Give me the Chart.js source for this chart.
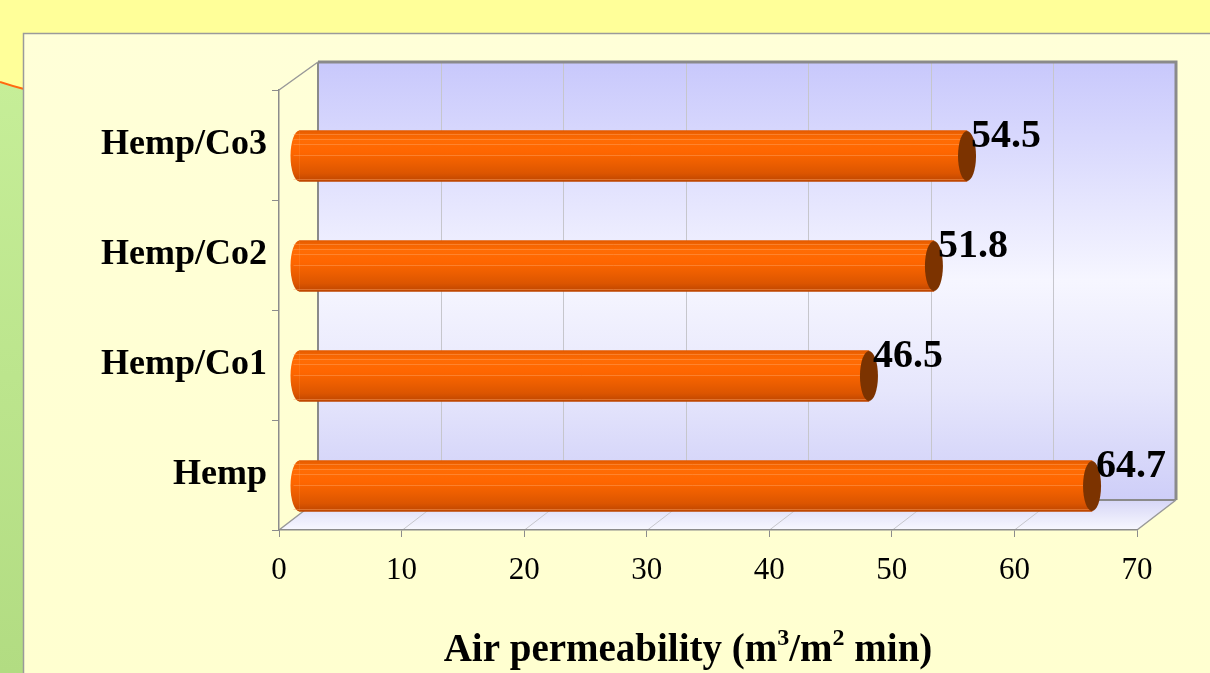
<!DOCTYPE html>
<html><head><meta charset="utf-8">
<script src="https://cdn.jsdelivr.net/npm/chart.js@4.4.1/dist/chart.umd.min.js"></script>
<style>
html,body{margin:0;padding:0;width:1210px;height:673px;overflow:hidden;background:#ffff99;}
#wrap{position:relative;width:1210px;height:673px;}
canvas{position:absolute;left:0;top:0;}
</style></head><body>
<div id="wrap"><canvas id="c" width="1210" height="673"></canvas></div>
<script>
// ---- data ----
const categories = ['Hemp/Co3', 'Hemp/Co2', 'Hemp/Co1', 'Hemp'];
const airPermeability = [54.5, 51.8, 46.5, 64.7];
const xTicks = [0, 10, 20, 30, 40, 50, 60, 70];
const titleMain = 'Air permeability (m';
const titleSup1 = '3';
const titleMid = '/m';
const titleSup2 = '2';
const titleEnd = ' min)';

const SERIF = '"Liberation Serif","Times New Roman",serif';
// 3D geometry (depth offsets of the back wall, offset of bars inside the box)
const DX = 39, DYT = -28, DYB = -30;
const BAR_DX = 20, BAR_DY = 11;
const BAR_T = 51;

const pageBg = {
  id: 'pageBg',
  beforeDraw(chart) {
    const ctx = chart.ctx;
    const W = chart.width, H = chart.height;
    ctx.save();
    ctx.fillStyle = '#ffff99';
    ctx.fillRect(0, 0, W, H);
    // green strip below orange arc
    ctx.beginPath();
    ctx.moveTo(0, 82);
    ctx.quadraticCurveTo(12, 86, 24, 89);
    ctx.lineTo(24, H); ctx.lineTo(0, H); ctx.closePath();
    const gg = ctx.createLinearGradient(0, 80, 0, H);
    gg.addColorStop(0, '#c6ee98'); gg.addColorStop(1, '#b2dc82');
    ctx.fillStyle = gg; ctx.fill();
    ctx.beginPath();
    ctx.moveTo(0, 82);
    ctx.quadraticCurveTo(12, 86, 24, 89);
    ctx.strokeStyle = '#ff6a10'; ctx.lineWidth = 2; ctx.stroke();
    // panel
    const pg = ctx.createLinearGradient(0, 33, 0, H);
    pg.addColorStop(0, '#ffffd8'); pg.addColorStop(1, '#ffffd0');
    ctx.fillStyle = pg;
    ctx.fillRect(23, 33, W - 23, H - 33);
    ctx.strokeStyle = '#9a9a9a'; ctx.lineWidth = 1.5;
    ctx.beginPath();
    ctx.moveTo(23.5, H); ctx.lineTo(23.5, 33.5); ctx.lineTo(W, 33.5);
    ctx.stroke();

    // 3D box: back wall + floor
    const xs = chart.scales.x, a = chart.chartArea;
    const xf0 = xs.getPixelForValue(xTicks[0]);
    const xf1 = xs.getPixelForValue(xTicks[xTicks.length - 1]);
    const bt = a.top + DYT, bb = a.bottom + DYB;
    const bl = xf0 + DX, br = xf1 + DX;
    const wg = ctx.createLinearGradient(0, bt, 0, bb);
    wg.addColorStop(0, '#c8c8fc');
    wg.addColorStop(0.5, '#f6f6ff');
    wg.addColorStop(0.75, '#e6e6fc');
    wg.addColorStop(1, '#cecef8');
    ctx.fillStyle = wg;
    ctx.fillRect(bl, bt, br - bl, bb - bt);
    // floor
    const fg = ctx.createLinearGradient(0, bb, 0, a.bottom);
    fg.addColorStop(0, '#d6d6f6'); fg.addColorStop(1, '#f8f8ff');
    ctx.fillStyle = fg;
    ctx.beginPath();
    ctx.moveTo(xf0, a.bottom); ctx.lineTo(xf1, a.bottom);
    ctx.lineTo(br, bb); ctx.lineTo(bl, bb); ctx.closePath();
    ctx.fill();
    // grid lines (back wall + floor)
    ctx.strokeStyle = '#c6c6cc'; ctx.lineWidth = 1;
    xTicks.forEach((v, i) => {
      if (i === 0 || i === xTicks.length - 1) return;
      const px = Math.round(xs.getPixelForValue(v)) + 0.5;
      ctx.beginPath();
      ctx.moveTo(px + DX, bt); ctx.lineTo(px + DX, bb);
      ctx.moveTo(px, a.bottom); ctx.lineTo(px + DX, bb);
      ctx.stroke();
    });
    // edges
    ctx.strokeStyle = '#8a8a8a';
    ctx.lineWidth = 3;
    ctx.beginPath();
    ctx.moveTo(bl, bt); ctx.lineTo(br, bt); ctx.lineTo(br, bb);
    ctx.stroke();
    ctx.lineWidth = 2;
    ctx.beginPath();
    ctx.moveTo(bl, bt); ctx.lineTo(bl, bb); ctx.lineTo(br, bb);
    ctx.stroke();
    ctx.lineWidth = 1.5; ctx.strokeStyle = '#999';
    ctx.beginPath();
    ctx.moveTo(xf1, a.bottom); ctx.lineTo(br, bb);
    ctx.moveTo(xf0, a.bottom); ctx.lineTo(bl, bb);
    ctx.moveTo(xf0, a.top); ctx.lineTo(bl, bt);
    ctx.stroke();
    ctx.restore();
  }
};

function barGradient(ctx, top, bottom) {
  const g = ctx.createLinearGradient(0, top, 0, bottom);
  g.addColorStop(0, '#e25a00');
  g.addColorStop(0.08, '#f46400');
  g.addColorStop(0.2, '#ff6c04');
  g.addColorStop(0.42, '#ff6600');
  g.addColorStop(0.62, '#ee5f00');
  g.addColorStop(0.84, '#dc5500');
  g.addColorStop(1, '#bd4500');
  return g;
}

function barFill(context) {
  const chart = context.chart;
  if (!chart.chartArea) return '#f06000';
  const yc = chart.scales.y.getPixelForValue(context.dataIndex);
  return barGradient(chart.ctx, yc - BAR_T / 2, yc + BAR_T / 2);
}

const cylinders = {
  id: 'cylinders',
  beforeDatasetsDraw(chart) {
    const ctx = chart.ctx;
    const meta = chart.getDatasetMeta(0);
    ctx.save();
    ctx.translate(BAR_DX, BAR_DY);
    meta.data.forEach(el => {
      const p = el.getProps(['x', 'y', 'base', 'height'], true);
      const g = barGradient(ctx, p.y - p.height / 2, p.y + p.height / 2);
      // rounded left end of the cylinder
      ctx.beginPath();
      ctx.ellipse(p.base, p.y, 9, p.height / 2, 0, Math.PI / 2, Math.PI * 1.5);
      ctx.closePath();
      ctx.fillStyle = g; ctx.fill();
    });
  },
  afterDatasetsDraw(chart) {
    const ctx = chart.ctx;
    const meta = chart.getDatasetMeta(0);
    meta.data.forEach(el => {
      const p = el.getProps(['x', 'y', 'base', 'height'], true);
      const top = p.y - p.height / 2, h = p.height;
      // light reflection stripes
      ctx.strokeStyle = 'rgba(255,165,100,0.45)'; ctx.lineWidth = 1;
      [0.07, 0.16, 0.26, 0.49, 0.95].forEach(f => {
        const yy = Math.round(top + f * h) + 0.5;
        ctx.beginPath(); ctx.moveTo(p.base - 6, yy); ctx.lineTo(p.x, yy); ctx.stroke();
      });
      // end cap
      ctx.beginPath();
      ctx.ellipse(p.x, p.y, 9, h / 2 - 0.5, 0, 0, Math.PI * 2);
      ctx.fillStyle = '#7c3300'; ctx.fill();
    });
    ctx.restore();
    // value labels
    ctx.save();
    ctx.font = 'bold 40px ' + SERIF;
    ctx.fillStyle = '#000';
    ctx.textAlign = 'left'; ctx.textBaseline = 'middle';
    meta.data.forEach((el, i) => {
      const p = el.getProps(['x', 'y'], true);
      ctx.fillText(airPermeability[i].toFixed(1), p.x + BAR_DX + 4, p.y - 8);
    });
    ctx.restore();
  }
};

const axisTitlePlugin = {
  id: 'axisTitle',
  afterDraw(chart) {
    const ctx = chart.ctx;
    const size = 39, sup = 24;
    const big = 'bold ' + size + 'px ' + SERIF, small = 'bold ' + sup + 'px ' + SERIF;
    const parts = [[titleMain, big, 0], [titleSup1, small, -16], [titleMid, big, 0], [titleSup2, small, -16], [titleEnd, big, 0]];
    ctx.save();
    let w = 0;
    parts.forEach(pt => { ctx.font = pt[1]; w += ctx.measureText(pt[0]).width; });
    let x = 688 - w / 2;
    const base = 661;
    ctx.fillStyle = '#000'; ctx.textBaseline = 'alphabetic'; ctx.textAlign = 'left';
    parts.forEach(pt => {
      ctx.font = pt[1];
      ctx.fillText(pt[0], x, base + pt[2]);
      x += ctx.measureText(pt[0]).width;
    });
    ctx.restore();
  }
};

new Chart(document.getElementById('c'), {
  type: 'bar',
  data: {
    labels: categories,
    datasets: [{
      data: airPermeability,
      backgroundColor: barFill,
      borderWidth: 0,
      barThickness: BAR_T,
      clip: false
    }]
  },
  options: {
    indexAxis: 'y',
    responsive: false,
    animation: false,
    devicePixelRatio: 1,
    layout: { padding: { left: 0, right: 73, top: 90, bottom: 0 } },
    plugins: { legend: { display: false }, tooltip: { enabled: false } },
    scales: {
      x: {
        min: 0, max: 70,
        afterBuildTicks: s => { s.ticks = xTicks.map(v => ({ value: v })); },
        ticks: { font: { family: SERIF, size: 31 }, color: '#000', padding: 15, maxRotation: 0, autoSkip: false },
        grid: { drawOnChartArea: false, tickLength: 7, color: '#8c8c8c', lineWidth: 1 },
        border: { color: '#8c8c8c', width: 1.5 },
        afterFit: s => { s.height = 673 - 530; }
      },
      y: {
        ticks: { font: { family: SERIF, size: 36, weight: 'bold' }, color: '#000', padding: 5 },
        grid: { drawOnChartArea: false, tickLength: 7, color: '#8c8c8c', offset: true },
        border: { color: '#8c8c8c', width: 1.5 },
        afterFit: s => { s.width = 279; }
      }
    }
  },
  plugins: [pageBg, cylinders, axisTitlePlugin]
});
</script>
</body></html>
